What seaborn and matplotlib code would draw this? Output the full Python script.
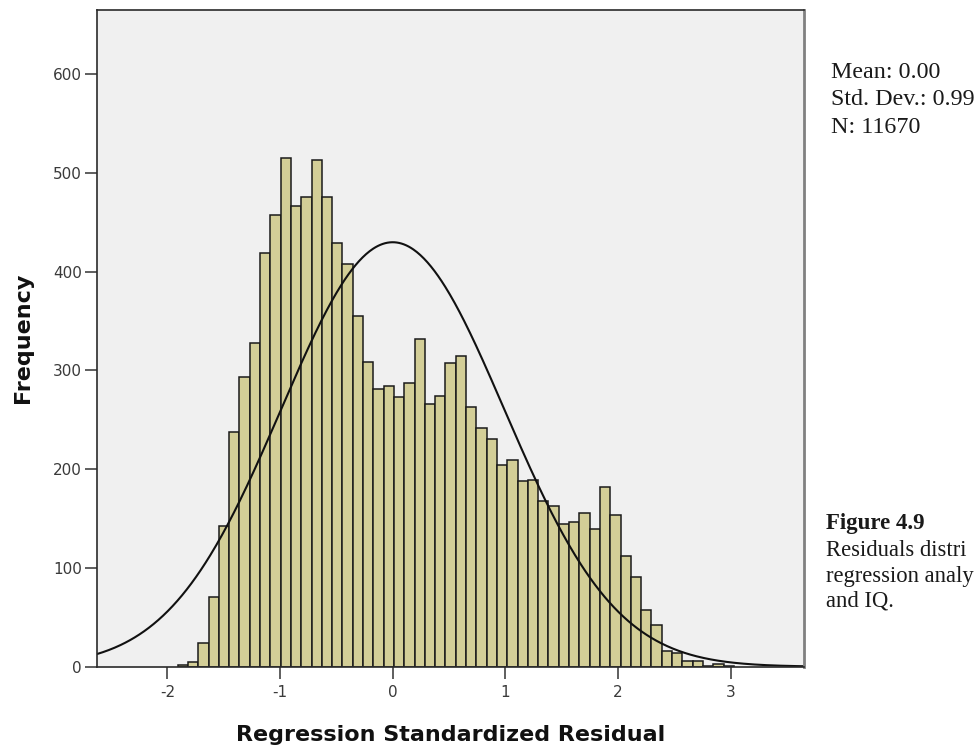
import numpy as np
import pandas as pd
import matplotlib
matplotlib.use("Agg")
import matplotlib.pyplot as plt
import seaborn as sns

# Histogram of regression standardized residuals (bin counts, left to right)
bin_start = -1.908
bin_width = 0.0914
counts = [2, 5, 24, 71, 142, 238, 293, 328, 419, 457,
          515, 467, 476, 513, 476, 429, 408, 355, 309, 281,
          284, 273, 287, 332, 266, 274, 308, 315, 263, 242,
          231, 204, 209, 188, 189, 168, 163, 145, 147, 156,
          139, 182, 154, 112, 91, 57, 42, 16, 14, 6,
          6, 1, 3, 1]

# Summary statistics of the residuals
resid_mean = 0.00
resid_sd = 0.99
resid_n = 11670

x_ticks = [-2, -1, 0, 1, 2, 3]
y_ticks = [0, 100, 200, 300, 400, 500, 600]

sns.set_theme(style="ticks")
plt.rcParams["font.family"] = ["DejaVu Sans"]

n_bins = len(counts)
bin_end = bin_start + bin_width * n_bins
centers = bin_start + bin_width * (np.arange(n_bins) + 0.5)
hist_df = pd.DataFrame({"residual": centers, "count": counts})

W, H = 976.0, 747.0
fig = plt.figure(figsize=(9.76, 7.47), dpi=100)
ax_rect = [97 / W, 1 - 666.7 / H, 707 / W, 657.2 / H]
ax = fig.add_axes(ax_rect)
ax.set_facecolor("#F0F0F0")

sns.histplot(data=hist_df, x="residual", weights="count",
             binwidth=bin_width, binrange=(bin_start, bin_end),
             color="#D3CE97", alpha=1.0, edgecolor="#1a1a1a", linewidth=1.1,
             ax=ax)

# Normal curve scaled to the histogram counts
xlim = (-2.624, 3.650)
grid = np.linspace(xlim[0], xlim[1], 600)
pdf = np.exp(-0.5 * ((grid - resid_mean) / resid_sd) ** 2) / (resid_sd * np.sqrt(2 * np.pi))
curve_df = pd.DataFrame({"x": grid, "y": resid_n * bin_width * pdf})
sns.lineplot(data=curve_df, x="x", y="y", color="#111111", linewidth=1.5, ax=ax)

ax.set_xlim(*xlim)
ax.set_ylim(0, 665.5)
ax.set_xticks(x_ticks)
ax.set_xticklabels([str(t) for t in x_ticks])
ax.set_yticks(y_ticks)
ax.set_yticklabels([str(t) for t in y_ticks])
ax.tick_params(axis="both", direction="out", length=8.6, width=1.1,
               color="#333333", labelcolor="#3a3a3a", labelsize=11)
ax.tick_params(axis="y", pad=2.2)
ax.tick_params(axis="x", pad=4.5)

for side in ["left", "top", "bottom"]:
    ax.spines[side].set_color("#2a2a2a")
    ax.spines[side].set_linewidth(1.2)
ax.spines["right"].set_color("#808080")
ax.spines["right"].set_linewidth(2.0)

ax.set_xlabel("Regression Standardized Residual", fontsize=16, fontweight="bold",
              color="#111111")
ax.xaxis.label.set_va("baseline")
ax.xaxis.set_label_coords(0.5, (666.7 - 741) / 657.2)
ax.set_ylabel("Frequency", fontsize=16, fontweight="bold", color="#111111")
ax.yaxis.label.set_va("center")
ax.yaxis.set_label_coords((23 - 97) / 707, 0.5)

# Statistics box and caption to the right of the chart
serif = ["Liberation Serif", "DejaVu Serif"]
stats_lines = ["Mean: 0.00", "Std. Dev.: 0.99", "N: 11670"]
for line, yb in zip(stats_lines, [78, 105, 133]):
    fig.text(831 / W, 1 - yb / H, line, family=serif, fontsize=17.3,
             color="#1a1a1a", va="baseline", ha="left")

fig.text(826 / W, 1 - 529 / H, "Figure 4.9", family=serif, fontsize=16.5,
         fontweight="bold", color="#1a1a1a", va="baseline", ha="left")
caption_lines = ["Residuals distri", "regression analy", "and IQ."]
for line, yb in zip(caption_lines, [556, 582, 607]):
    fig.text(826 / W, 1 - yb / H, line, family=serif, fontsize=16.3,
             color="#1a1a1a", va="baseline", ha="left")

fig.savefig("out.png", dpi=100, facecolor="white")
